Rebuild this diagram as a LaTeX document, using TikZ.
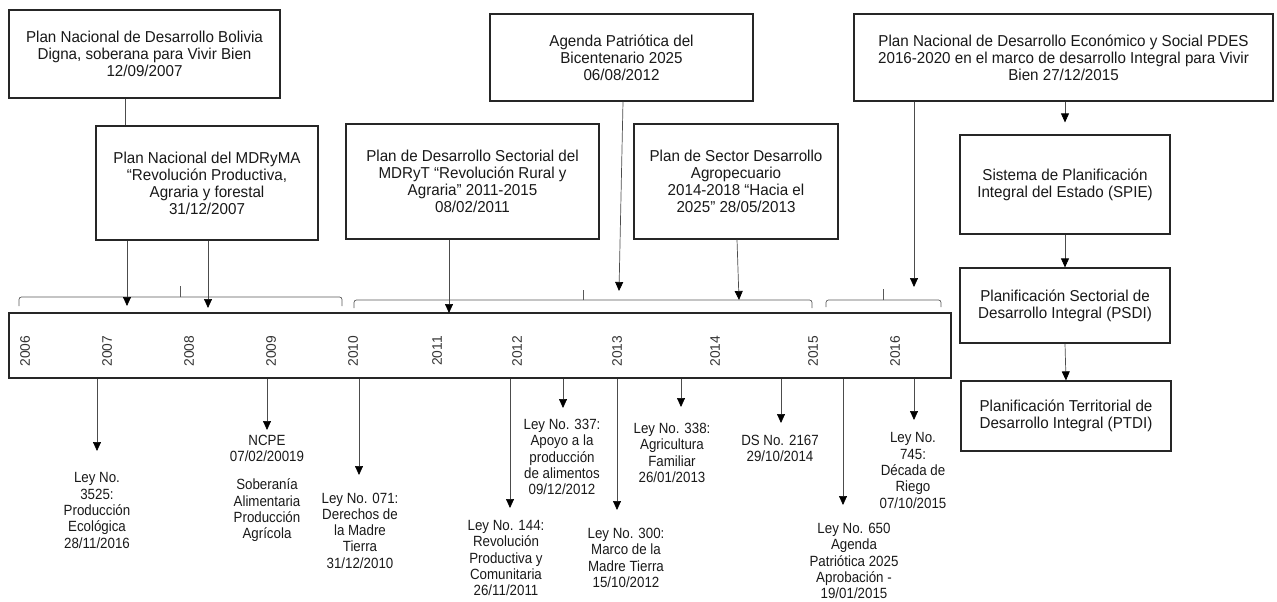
\documentclass[tikz,border=0pt]{standalone}
\usepackage{fontspec}
\setmainfont{Liberation Sans}
\newfontfamily\bxfam[FakeStretch=0.96]{Liberation Sans}
\newfontfamily\lwfam[FakeStretch=0.9]{Liberation Sans}
\usetikzlibrary{arrows.meta}
\newcommand\bxfont{\bxfam\fontsize{15.8}{17}\selectfont}
\newcommand\lwfont{\lwfam\fontsize{14.8}{16.3}\selectfont}
\newcommand\yrfnt{\fontsize{13.8}{15}\selectfont}
\begin{document}
\begin{tikzpicture}[x=1pt,y=-1pt,
  box/.style={draw=black!85, line width=1.2pt, align=center, inner sep=2pt, font=\bxfont, text=black!90, fill=white},
  law/.style={align=center, font=\lwfont, text=black!90, inner sep=1pt},
  yr/.style={rotate=90, font=\yrfnt, text=black!80, inner sep=0pt},
  arr/.style={draw=black!70, line width=0.7pt, -{Triangle[width=8pt,length=9pt,fill=black,color=black]}},
  conn/.style={draw=black!70, line width=0.7pt},
  brk/.style={draw=black!65, line width=0.7pt, rounded corners=2.5pt}]
\useasboundingbox (0,0) rectangle (1277,602);

% ---- top boxes ----
\node[box, minimum width=271pt, minimum height=88pt] (b1) at (144.5,54) {Plan Nacional de Desarrollo Bolivia\\Digna, soberana para Vivir Bien\\12/09/2007};
\node[box, minimum width=222pt, minimum height=114pt] (b2) at (207,183) {Plan Nacional del MDRyMA\\“Revolución Productiva,\\Agraria y forestal\\31/12/2007};
\node[box, minimum width=253pt, minimum height=115pt] (b3) at (472.5,181.5) {Plan de Desarrollo Sectorial del\\MDRyT “Revolución Rural y\\Agraria” 2011-2015\\08/02/2011};
\node[box, minimum width=263pt, minimum height=87pt] (b4) at (621.5,57.5) {Agenda Patriótica del\\Bicentenario 2025\\06/08/2012};
\node[box, minimum width=204pt, minimum height=115pt] (b5) at (736,181.5) {Plan de Sector Desarrollo\\Agropecuario\\2014-2018 “Hacia el\\2025” 28/05/2013};
\node[box, minimum width=419pt, minimum height=87pt] (b6) at (1063.5,57.5) {Plan Nacional de Desarrollo Económico y Social PDES\\2016-2020 en el marco de desarrollo Integral para Vivir\\Bien 27/12/2015};

% ---- right column ----
\node[box, minimum width=210pt, minimum height=99pt] (spie) at (1065,184.5) {Sistema de Planificación\\Integral del Estado (SPIE)};
\node[box, minimum width=210pt, minimum height=75pt] (psdi) at (1065,305.5) {Planificación Sectorial de\\Desarrollo Integral (PSDI)};
\node[box, minimum width=210pt, minimum height=70pt] (ptdi) at (1066,416) {Planificación Territorial de\\Desarrollo Integral (PTDI)};

% ---- timeline ----
\node[box, minimum width=942pt, minimum height=65pt] (tl) at (480,345.5) {};
\node[yr] (y06) at (25,351) {2006};
\node[yr] (y07) at (107,351) {2007};
\node[yr] (y08) at (189,351) {2008};
\node[yr] (y09) at (271,351) {2009};
\node[yr] (y10) at (353,351) {2010};
\node[yr] (y11) at (437,351) {2011};
\node[yr] (y12) at (517,351) {2012};
\node[yr] (y13) at (617,351) {2013};
\node[yr] (y14) at (715,351) {2014};
\node[yr] (y15) at (813,351) {2015};
\node[yr] (y16) at (895,351) {2016};

% ---- brackets ----
\draw[brk] (19,306) -- (19,297) -- (342,297) -- (342,306);
\draw[brk] (180,297) -- (180,286);
\draw[brk] (354,308) -- (354,300) -- (812,300) -- (812,308);
\draw[brk] (583,300) -- (583,290);
\draw[brk] (826,307) -- (826,300) -- (941,300) -- (941,307);
\draw[brk] (883,300) -- (883,289);

% ---- connectors from plans ----
\coordinate (k1) at (125,0);
\draw[conn] (b1.south -| k1) -- (b2.north -| k1);
\coordinate (t1) at (127,306);
\coordinate (t2) at (208,308);
\draw[arr] (b2.south -| t1) -- (t1);
\draw[arr] (b2.south -| t2) -- (t2);
\coordinate (t3) at (449,313);
\draw[arr] (b3.south -| t3) -- (t3);
\coordinate (t4) at (619,291);
\draw[arr] ([xshift=1.5pt]b4.south) -- (t4);
\coordinate (t5) at (739,300);
\draw[arr] ([xshift=1pt]b5.south) -- (t5);
\coordinate (t6) at (914,287);
\draw[arr] (b6.south -| t6) -- (t6);
\draw[arr, shorten >=12pt] (b6.south -| spie.north) -- (spie.north);
\draw[arr] (spie.south) -- (psdi.north);
\draw[arr] (psdi.south) -- (ptdi.north);

% ---- laws ----
\coordinate (a1) at (97,451);
\coordinate (a2) at (267,430);
\coordinate (a3) at (359,475);
\coordinate (a4) at (510,508);
\coordinate (a5) at (563,408);
\coordinate (a6) at (617,510);
\coordinate (a7) at (681,407);
\coordinate (a8) at (781,423);
\coordinate (a9) at (843,505);
\coordinate (a10) at (914,420);
\foreach \i in {1,...,10} {\draw[arr] (tl.south -| a\i) -- (a\i);}

\node[law] (l1) at (97,510.5) {Ley No.\\3525:\\Producción\\Ecológica\\28/11/2016};
\node[law] (l2) at (267,488.5) {NCPE\\07/02/20019\\[12pt]Soberanía\\Alimentaria\\Producción\\Agrícola};
\node[law] (l3) at (360,530.5) {Ley No. 071:\\Derechos de\\la Madre\\Tierra\\31/12/2010};
\node[law] (l4) at (506,558) {Ley No. 144:\\Revolución\\Productiva y\\Comunitaria\\26/11/2011};
\node[law] (l5) at (562,457) {Ley No. 337:\\Apoyo a la\\producción\\de alimentos\\09/12/2012};
\node[law] (l6) at (626,558) {Ley No. 300:\\Marco de la\\Madre Tierra\\15/10/2012};
\node[law] (l7) at (672,453) {Ley No. 338:\\Agricultura\\Familiar\\26/01/2013};
\node[law] (l8) at (780,448.5) {DS No. 2167\\29/10/2014};
\node[law] (l9) at (854,561) {Ley No. 650\\Agenda\\Patriótica 2025\\Aprobación -\\19/01/2015};
\node[law] (l10) at (913,470.5) {Ley No.\\745:\\Década de\\Riego\\07/10/2015};
\end{tikzpicture}
\end{document}
